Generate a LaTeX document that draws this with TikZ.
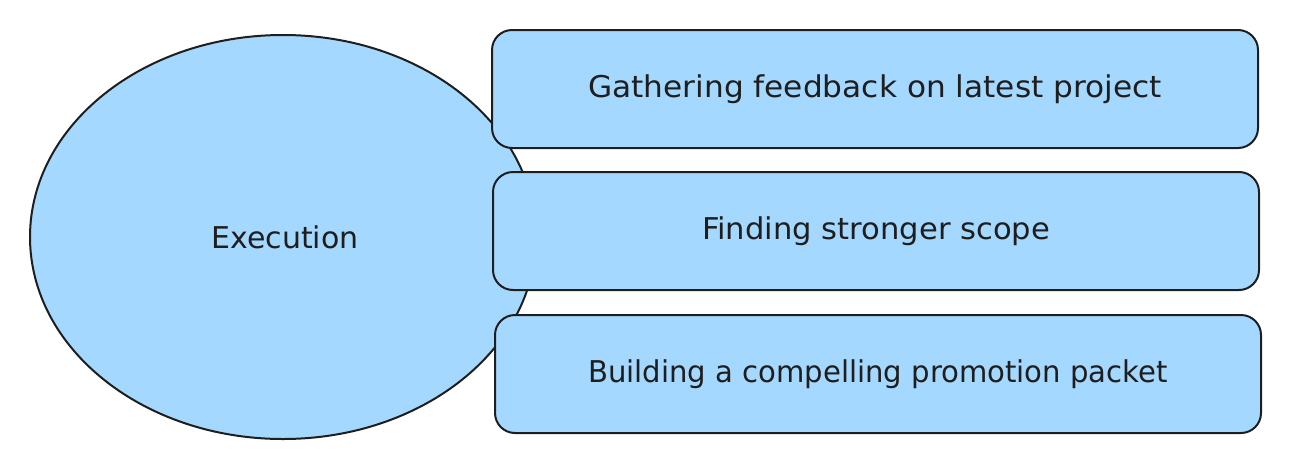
\documentclass[tikz,border=0pt]{standalone}
\usepackage{fontspec}
\setmainfont{DejaVu Sans}
\usetikzlibrary{shapes.geometric}
\definecolor{boxfill}{HTML}{A5D8FF}
\definecolor{ink}{HTML}{1E1E1E}
\begin{document}
\begin{tikzpicture}[x=1pt,y=-1pt,
  shapeline/.style={draw=ink, line width=2pt, fill=boxfill},
  itembox/.style={shapeline, rounded corners=20pt, minimum width=766pt, minimum height=118pt, font=\fontsize{30}{34}\selectfont, text=ink},
  txt/.style={font=\fontsize{30}{34}\selectfont, text=ink}]
\useasboundingbox (0,0) rectangle (1314,461);
\node[shapeline, ellipse, minimum width=506pt, minimum height=404pt, inner sep=0pt] (exec) at (283,237) {};
\node[txt] (exectext) at (285,237) {Execution};
\node[itembox] (b1) at (875,89) {\scalebox{1.04}[1]{Gathering feedback on latest project}};
\node[itembox] (b2) at (876,231) {\scalebox{1.02}[1]{Finding stronger scope}};
\node[itembox] (b3) at (878,374) {\scalebox{0.97}[1]{Building a compelling promotion packet}};
\end{tikzpicture}
\end{document}
